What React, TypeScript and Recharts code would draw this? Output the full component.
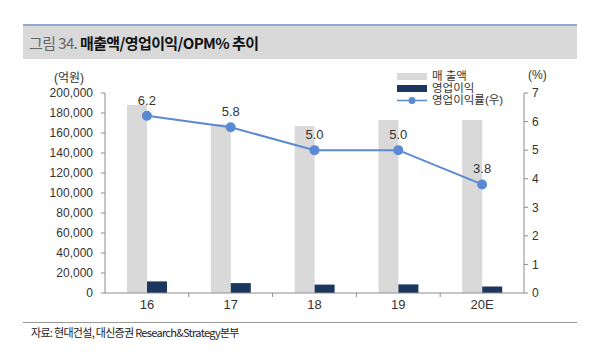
import {
  ComposedChart,
  Bar,
  Line,
  XAxis,
  YAxis,
  LabelList,
} from "recharts";

const categories = ["16", "17", "18", "19", "20E"];
const revenue = [188000, 169000, 167000, 173000, 173000];
const operatingProfit = [11600, 9900, 8400, 8600, 6500];
const opm = [6.2, 5.8, 5.0, 5.0, 3.8];

const leftTicks = [0, 20000, 40000, 60000, 80000, 100000, 120000, 140000, 160000, 180000, 200000];
const rightTicks = [0, 1, 2, 3, 4, 5, 6, 7];

const data = categories.map((name, i) => ({
  name,
  매출액: revenue[i],
  영업이익: operatingProfit[i],
  영업이익률: opm[i],
}));

const W = 600;
const H = 357;
const M = { top: 93, right: 36, bottom: 34, left: 45 };
const LEFT_W = 60;
const RIGHT_W = 40;
const PLOT_W = W - M.left - M.right - LEFT_W - RIGHT_W;
const HALF_BAND = PLOT_W / categories.length / 2;

const FONT = '"Liberation Sans", Arial, "Noto Sans CJK KR", sans-serif';
const GRAY = "#d9d9d9";
const NAVY = "#1b365f";
const BLUE = "#5b8ad3";
const AXIS = "#8c8c8c";
const TEXT = "#333";

function XTick({ x, y, payload, index }: any) {
  return (
    <g>
      {index > 0 && (
        <line x1={x - HALF_BAND} x2={x - HALF_BAND} y1={y} y2={y + 4} stroke={AXIS} />
      )}
      <text x={x} y={y + 16} textAnchor="middle" fontSize={13} fill={TEXT}>
        {payload.value}
      </text>
    </g>
  );
}

function ChartLegend() {
  const row = { display: "flex", alignItems: "center", height: 12 } as const;
  return (
    <div style={{ fontSize: 11.5, color: TEXT, lineHeight: "12px" }}>
      <div style={row}>
        <span style={{ width: 30, height: 7, background: GRAY, marginRight: 5 }} />
        <span>매 출액</span>
      </div>
      <div style={row}>
        <span style={{ width: 30, height: 7, background: NAVY, marginRight: 5 }} />
        <span>영업이익</span>
      </div>
      <div style={row}>
        <svg width={30} height={9} style={{ marginRight: 5 }}>
          <line x1={0} x2={30} y1={4.5} y2={4.5} stroke={BLUE} strokeWidth={1.5} />
          <circle cx={15} cy={4.5} r={3.5} fill={BLUE} />
        </svg>
        <span>영업이익률(우)</span>
      </div>
    </div>
  );
}

export default function App() {
  return (
    <div
      style={{
        position: "absolute",
        left: 0,
        top: 0,
        width: W,
        height: H,
        background: "#fff",
        fontFamily: FONT,
        overflow: "hidden",
      }}
    >
      {/* title band */}
      <div
        style={{
          position: "absolute",
          left: 23,
          top: 24,
          width: 548,
          height: 33,
          background: "#d9d9d9",
          borderTop: "2px solid #8eaad0",
          display: "flex",
          alignItems: "center",
          paddingLeft: 6,
          fontFamily: '"Noto Sans CJK KR", sans-serif',
          fontSize: 15,
          letterSpacing: -0.6,
        }}
      >
        <span style={{ color: "#666" }}>그림 34.&nbsp;</span>
        <span style={{ color: "#111", fontWeight: 700 }}>매출액/영업이익/OPM% 추이</span>
      </div>

      <div style={{ position: "absolute", left: 54, top: 68, fontSize: 12, color: TEXT }}>
        (억원)
      </div>
      <div style={{ position: "absolute", left: 528, top: 68, fontSize: 12, color: TEXT }}>
        (%)
      </div>

      <div style={{ position: "absolute", left: 397, top: 70 }}>
        <ChartLegend />
      </div>

      <div style={{ position: "absolute", left: 0, top: 0 }}>
        <ComposedChart width={W} height={H} data={data} margin={M} barGap={0}>
          <XAxis
            dataKey="name"
            xAxisId="x"
            height={30}
            axisLine={{ stroke: AXIS }}
            tickLine={false}
            tickSize={0}
            tickMargin={0}
            tick={<XTick />}
            interval={0}
          />
          <YAxis
            yAxisId="left"
            orientation="left"
            width={LEFT_W}
            domain={[0, 200000]}
            ticks={leftTicks}
            tickFormatter={(v: number) => v.toLocaleString("en-US")}
            axisLine={{ stroke: AXIS }}
            tickLine={{ stroke: AXIS }}
            tickSize={4}
            tickMargin={8}
            tick={{ fontSize: 12, fill: TEXT }}
            interval={0}
          />
          <YAxis
            yAxisId="right"
            orientation="right"
            width={RIGHT_W}
            domain={[0, 7]}
            ticks={rightTicks}
            axisLine={{ stroke: AXIS }}
            tickLine={{ stroke: AXIS }}
            tickSize={4}
            tickMargin={4}
            tick={{ fontSize: 12, fill: TEXT }}
            interval={0}
          />
          <Bar
            dataKey="매출액"
            xAxisId="x"
            yAxisId="left"
            fill={GRAY}
            barSize={20}
            isAnimationActive={false}
          />
          <Bar
            dataKey="영업이익"
            xAxisId="x"
            yAxisId="left"
            fill={NAVY}
            barSize={20}
            isAnimationActive={false}
          />
          <Line
            dataKey="영업이익률"
            xAxisId="x"
            yAxisId="right"
            stroke={BLUE}
            strokeWidth={2}
            dot={{ r: 4, fill: BLUE, stroke: BLUE }}
            isAnimationActive={false}
          >
            <LabelList
              dataKey="영업이익률"
              position="top"
              offset={11}
              formatter={(v: number) => v.toFixed(1)}
              style={{ fontSize: 13, fill: TEXT }}
            />
          </Line>
        </ComposedChart>
      </div>

      {/* footer */}
      <div
        style={{
          position: "absolute",
          left: 23,
          top: 322,
          width: 554,
          borderTop: "1px solid #999",
        }}
      />
      <div
        style={{
          position: "absolute",
          left: 31,
          top: 324,
          fontSize: 11,
          letterSpacing: -0.7,
          color: "#222",
          fontFamily: '"Noto Sans CJK KR", sans-serif',
        }}
      >
        자료: 현대건설, 대신증권 Research&amp;Strategy본부
      </div>
    </div>
  );
}
